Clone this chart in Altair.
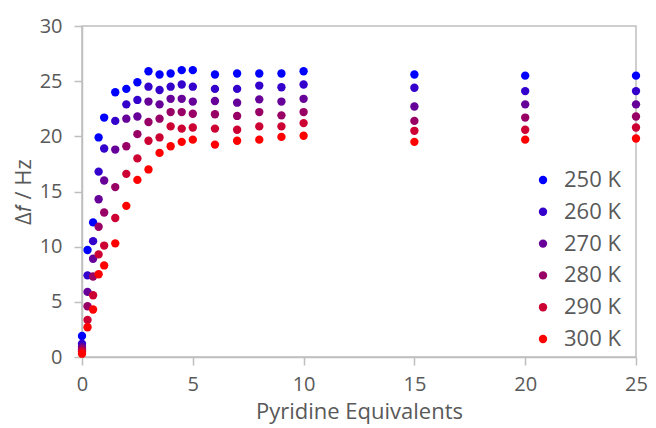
import altair as alt
import pandas as pd

x_vals = [0, 0.25, 0.5, 0.75, 1, 1.5, 2, 2.5, 3, 3.5, 4, 4.5, 5, 6, 7, 8, 9, 10, 15, 20, 25]
series_names = ["250 K", "260 K", "270 K", "280 K", "290 K", "300 K"]
y_250 = [1.9, 9.7, 12.2, 19.9, 21.7, 24.0, 24.3, 24.9, 25.9, 25.6, 25.7, 26.0, 26.0, 25.6, 25.7, 25.7, 25.7, 25.9, 25.6, 25.5, 25.5]
y_260 = [1.2, 7.4, 10.5, 16.8, 18.9, 21.4, 22.9, 23.3, 24.5, 24.2, 24.5, 24.7, 24.5, 24.3, 24.3, 24.6, 24.45, 24.7, 24.4, 24.1, 24.1]
y_270 = [0.9, 5.9, 8.9, 14.3, 16.0, 18.8, 21.6, 21.8, 23.15, 22.9, 23.4, 23.4, 23.15, 23.2, 23.05, 23.35, 23.15, 23.4, 22.7, 22.9, 22.9]
y_280 = [0.7, 4.6, 7.3, 11.8, 13.1, 15.4, 19.1, 20.2, 21.3, 21.6, 22.2, 22.2, 22.05, 22.0, 21.85, 22.2, 21.9, 22.2, 21.4, 21.7, 21.8]
y_290 = [0.5, 3.35, 5.6, 9.3, 10.1, 12.6, 16.6, 18.0, 19.6, 19.9, 20.9, 20.7, 20.8, 20.7, 20.6, 20.9, 20.9, 21.2, 20.5, 20.6, 20.8]
y_300 = [0.3, 2.7, 4.3, 7.5, 8.3, 10.3, 13.7, 16.05, 17.0, 18.5, 19.1, 19.5, 19.7, 19.25, 19.6, 19.7, 19.95, 20.05, 19.5, 19.7, 19.8]
colors = ["#0000ff", "#3300cc", "#660099", "#990066", "#cc0033", "#ff0000"]
x_ticks = [0, 5, 10, 15, 20, 25]
y_ticks = [0, 5, 10, 15, 20, 25, 30]

rows = []
for name, ys in zip(series_names, [y_250, y_260, y_270, y_280, y_290, y_300]):
    for xv, yv in zip(x_vals, ys):
        rows.append({"eq": xv, "df": yv, "T": name})
df = pd.DataFrame(rows)

FONT = "Open Sans"
GREY = "#595959"
LINE = "#bfbfbf"

axis_common = dict(
    grid=False,
    labelFlush=False,
    domainColor=LINE,
    domainWidth=1.5,
    tickColor=LINE,
    tickWidth=1.5,
    tickSize=8,
    labelFont=FONT,
    labelFontSize=20,
    labelColor=GREY,
    titleFont=FONT,
    titleFontSize=22,
    titleFontWeight="normal",
    titleColor=GREY,
)

chart = alt.Chart(df).mark_circle(size=70, opacity=1).encode(
    x=alt.X(
        "eq:Q",
        scale=alt.Scale(domain=[0, 25], nice=False),
        axis=alt.Axis(values=x_ticks, title="Pyridine Equivalents", labelPadding=9, titlePadding=7, **axis_common),
    ),
    y=alt.Y(
        "df:Q",
        scale=alt.Scale(domain=[0, 30], nice=False),
        axis=alt.Axis(values=y_ticks, title="Δ𝑓  / Hz", labelPadding=12, titlePadding=4, **axis_common),
    ),
    color=alt.Color(
        "T:N",
        scale=alt.Scale(domain=series_names, range=colors),
        legend=alt.Legend(
            title=None,
            orient="none",
            legendX=450,
            legendY=143,
            symbolType="circle",
            symbolSize=70,
            symbolStrokeWidth=0,
            labelFont=FONT,
            labelFontSize=22,
            labelColor=GREY,
            labelOffset=10,
            rowPadding=9.8,
        ),
    ),
).properties(
    width=554,
    height=331,
    autosize=alt.AutoSizeParams(type="none"),
    padding={"left": 74, "top": 18, "right": 12, "bottom": 68},
).configure_view(stroke=LINE, strokeWidth=1.5)

chart.save("out.html", embed_options={"renderer": "svg", "actions": False})
